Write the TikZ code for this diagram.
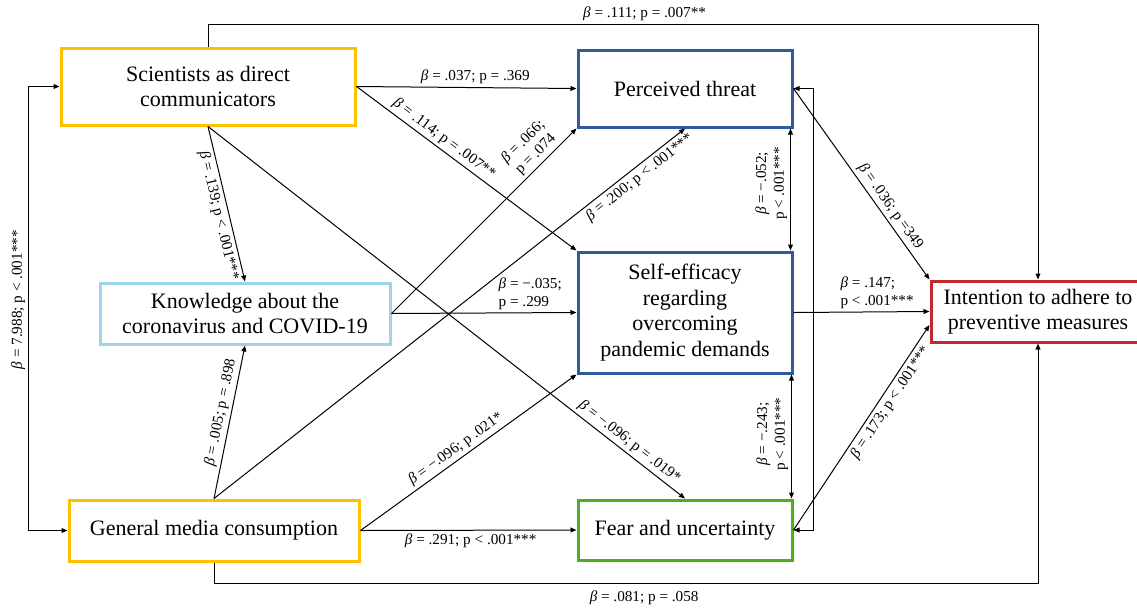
\documentclass[tikz,border=0pt]{standalone}
\usepackage{fontspec}
\setmainfont{Liberation Serif}
\usetikzlibrary{arrows.meta}
\definecolor{cyel}{HTML}{FFC000}
\definecolor{clb}{HTML}{9DD3EB}
\definecolor{cdb}{HTML}{2F5A9B}
\definecolor{cgr}{HTML}{4EAE1E}
\definecolor{cred}{HTML}{C0282D}
\newcommand{\Bt}{{\itshape β}}
\begin{document}
\begin{tikzpicture}[x=0.5pt,y=-0.5pt,
  box/.style={draw,fill=white,line width=1.5pt,inner sep=0pt,align=center,font=\fontsize{11}{12.8}\selectfont},
  lab/.style={font=\fontsize{7.6}{8.8}\selectfont,inner sep=1.5pt},
  con/.style={line width=0.5pt,-{Triangle[length=3pt,width=2.4pt]}},
  bi/.style={line width=0.5pt,{Triangle[length=3pt,width=2.4pt]}-{Triangle[length=3pt,width=2.4pt]}}]
\useasboundingbox (0,0) rectangle (1137,607);
% boxes
\node[box,draw=cyel,minimum width=147pt,minimum height=38.5pt] (sci) at (208,86.5) {Scientists as direct\\communicators};
\node[box,draw=cdb,minimum width=107pt,minimum height=38.5pt] (pt) at (685,88.5) {Perceived threat};
\node[box,draw=cdb,minimum width=107pt,minimum height=60.5pt] (se) at (685,312.5) {Self-efficacy\\regarding\\overcoming\\pandemic demands};
\node[box,draw=clb,minimum width=145pt,minimum height=30.5pt] (kn) at (245,313.5) {Knowledge about the\\coronavirus and COVID-19};
\node[box,draw=cyel,minimum width=145pt,minimum height=30.5pt] (me) at (214,530.5) {General media consumption};
\node[box,draw=cgr,minimum width=107pt,minimum height=30pt] (fe) at (685,530) {Fear and uncertainty};
\node[box,draw=cred,minimum width=107pt,minimum height=30.5pt] (in) at (1038,311.5) {Intention to adhere to\\preventive measures};
% connectors
\draw[con] (sci.east) -- node[lab,above,pos=0.54]{\Bt\ = .037; p = .369} (pt.west);
\draw[con] (sci.east) -- node[lab,sloped,above,pos=0.37]{\Bt\ = .114; p = .007**} (se.north west);
\draw[con] (sci.south) -- node[lab,sloped,below,pos=0.56]{\Bt\ = .139; p < .001***} (kn.north);
\draw[con] (sci.south) -- node[lab,sloped,above,pos=0.87]{\Bt\ = −.096; p = .019*} (fe.north);
\draw[con] (kn.east) -- node[lab,sloped,above,pos=0.82,align=center]{\Bt\ = .066;\\p = .074} (pt.south west);
\draw[con] (kn.east) -- node[lab,above,pos=0.75,align=left]{\Bt\ = −.035;\\p = .299} (se.west);
\draw[con] (me.north) -- node[lab,sloped,above,pos=0.55]{\Bt\ = .005; p = .898} (kn.south);
\draw[con] (me.north) -- node[lab,sloped,below,pos=0.89]{\Bt\ = .200; p < .001***} (pt.south);
\draw[con] (me.east) -- node[lab,sloped,above,pos=0.47]{\Bt\ = −.096; p .021*} (se.south west);
\draw[con] (me.east) -- node[lab,below,pos=0.51]{\Bt\ = .291; p < .001***} (fe.west);
\draw[bi] ([xshift=-1.5pt]pt.south east) -- node[lab,rotate=90,above,pos=0.45,align=center]{\Bt\ = −.052;\\p < .001***} ([xshift=-1.5pt]se.north east);
\draw[bi] ([xshift=-1pt]se.south east) -- node[lab,rotate=90,above,pos=0.48,align=center]{\Bt\ = −.243;\\p < .001***} ([xshift=-1pt]fe.north east);
\draw[con] (se.east) -- node[lab,anchor=south west,pos=0.32,align=left]{\Bt\ = .147;\\p < .001***} (in.west);
\draw[con] (pt.east) -- node[lab,sloped,above,pos=0.65]{\Bt\ = .036; p =349} (in.north west);
\draw[con] (fe.east) -- node[lab,sloped,below,pos=0.65]{\Bt\ = .173; p < .001***} ([yshift=-6.75pt]in.west);
\draw[bi] (pt.east) -- ++(20,0) |- (fe.east);
\draw[con] (sci.north) -- ++(0,-22) -| node[lab,above=0pt,pos=0.263]{\Bt\ = .111; p = .007**} (in.north);
\draw[con] (me.south) -- ++(0,21) -| node[lab,below=2pt,pos=0.261]{\Bt\ = .081; p = .058} (in.south);
\draw[bi] (sci.west) -- ++(-31,0) |- node[lab,rotate=90,above,pos=0.24]{\Bt\ = 7.988; p < .001***} (me.west);
\end{tikzpicture}
\end{document}
